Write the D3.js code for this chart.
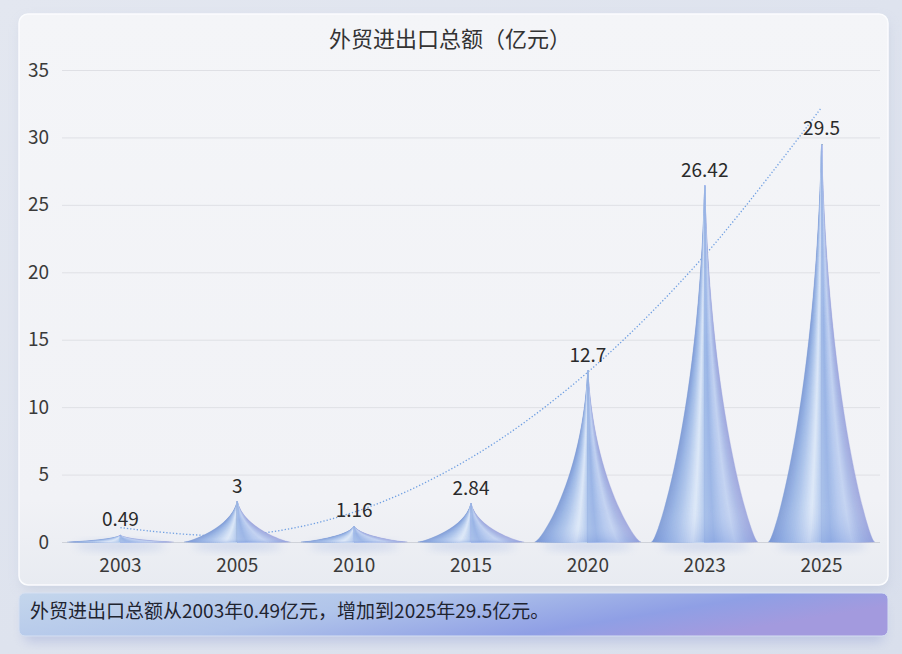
<!DOCTYPE html>
<html>
<head>
<meta charset="utf-8">
<script src="https://cdn.jsdelivr.net/npm/d3@7/dist/d3.min.js"></script>
<style>
  body { margin: 0; background: #dfe4ee; }
  svg { display: block; font-family: "Noto Sans CJK SC", "Noto Sans", sans-serif; }
</style>
</head>
<body>
<div id="chart"></div>
<script>
// chart data
var years = ["2003", "2005", "2010", "2015", "2020", "2023", "2025"];
var values = [0.49, 3, 1.16, 2.84, 12.7, 26.42, 29.5];
var yTicks = [0, 5, 10, 15, 20, 25, 30, 35];
var title = "外贸进出口总额（亿元）";
var caption = "外贸进出口总额从2003年0.49亿元，增加到2025年29.5亿元。";

var W = 902, H = 654;
var margin = { top: 70, right: 22, bottom: 112, left: 62 };

var svg = d3.select("#chart").append("svg").attr("width", W).attr("height", H);
var defs = svg.append("defs");

// page background
var bg = defs.append("linearGradient").attr("id", "pageBg").attr("x1", 0).attr("y1", 0).attr("x2", 1).attr("y2", 1);
bg.append("stop").attr("offset", "0%").attr("stop-color", "#e3e7f0");
bg.append("stop").attr("offset", "100%").attr("stop-color", "#d9dfec");
svg.append("rect").attr("width", W).attr("height", H).attr("fill", "url(#pageBg)");

// soft shadows
var blur = defs.append("filter").attr("id", "shadow").attr("x", "-10%").attr("y", "-10%").attr("width", "120%").attr("height", "130%");
blur.append("feGaussianBlur").attr("stdDeviation", 6);
var blur2 = defs.append("filter").attr("id", "soft").attr("x", "-50%").attr("y", "-50%").attr("width", "200%").attr("height", "200%");
blur2.append("feGaussianBlur").attr("stdDeviation", 4);

// card
svg.append("rect").attr("x", 21).attr("y", 20).attr("width", 867).attr("height", 570).attr("rx", 9)
  .attr("fill", "#b9c2d6").attr("opacity", 0.5).attr("filter", "url(#shadow)");
var cardG = defs.append("linearGradient").attr("id", "cardBg").attr("x1", 0).attr("y1", 0).attr("x2", 0).attr("y2", 1);
cardG.append("stop").attr("offset", "0%").attr("stop-color", "#f4f5f8");
cardG.append("stop").attr("offset", "85%").attr("stop-color", "#f1f2f6");
cardG.append("stop").attr("offset", "100%").attr("stop-color", "#e8ebf1");
svg.append("rect").attr("x", 19).attr("y", 14).attr("width", 869).attr("height", 571).attr("rx", 9)
  .attr("fill", "url(#cardBg)").attr("stroke", "#fbfcfe").attr("stroke-width", 1.5);

// caption box
svg.append("rect").attr("x", 24).attr("y", 602).attr("width", 860).attr("height", 40).attr("rx", 6)
  .attr("fill", "#9aa6d6").attr("opacity", 0.45).attr("filter", "url(#shadow)");
var capG = defs.append("linearGradient").attr("id", "capBg").attr("x1", 0).attr("y1", 0).attr("x2", 1).attr("y2", 0.3);
capG.append("stop").attr("offset", "0%").attr("stop-color", "#c4d6ec");
capG.append("stop").attr("offset", "45%").attr("stop-color", "#b0c4ea");
capG.append("stop").attr("offset", "80%").attr("stop-color", "#8f9fe5");
capG.append("stop").attr("offset", "100%").attr("stop-color", "#a39ade");
svg.append("rect").attr("x", 19).attr("y", 593).attr("width", 869).attr("height", 43).attr("rx", 6)
  .attr("fill", "url(#capBg)").attr("stroke", "#d6e0f2").attr("stroke-width", 1);
svg.append("text").attr("x", 30).attr("y", 618).attr("font-size", 19).attr("fill", "#1f2430").text(caption);

// title
svg.append("text").attr("x", 450).attr("y", 47).attr("text-anchor", "middle")
  .attr("font-size", 22).attr("fill", "#333").text(title);

var x = d3.scaleBand().domain(years).range([margin.left, W - margin.right]).padding(0);
var y = d3.scaleLinear().domain([0, 35]).range([H - margin.bottom, margin.top]);

// grid + y axis
var yAxis = svg.append("g").attr("transform", "translate(" + margin.left + ",0)")
  .call(d3.axisLeft(y).tickValues(yTicks).tickSize(-(W - margin.left - margin.right)).tickPadding(13));
yAxis.select(".domain").remove();
yAxis.selectAll(".tick line").attr("stroke", function (d) { return d === 0 ? "#cfd2d9" : "#dfe0e5"; });
yAxis.selectAll(".tick text").attr("font-size", 19).attr("fill", "#3a3a3a").attr("font-family", "Noto Sans CJK SC");

// x axis labels
var xAxis = svg.append("g").attr("transform", "translate(0," + (H - margin.bottom) + ")")
  .call(d3.axisBottom(x).tickSize(0).tickPadding(17));
xAxis.select(".domain").remove();
xAxis.selectAll(".tick text").attr("font-size", 19).attr("fill", "#3a3a3a").attr("font-family", "Noto Sans CJK SC");

// half spike: concave side from the base corner up to the tip, closed down the centre line
function halfSpike(cx, hw, top, base) {
  var h = base - top;
  return "M" + (cx + hw) + "," + base +
    "C" + (cx + hw * 0.9) + "," + base + " " + (cx + hw * 0.12) + "," + (base - h * 0.35) + " " + cx + "," + top +
    "L" + cx + "," + base + "Z";
}

// shading across the horn, u = -1 (left edge) .. 1 (right edge)
var shade = d3.scaleLinear()
  .domain([-1, -0.8, -0.6, -0.4, -0.25, -0.1, 0, 0.2, 0.4, 0.6, 0.8, 1])
  .range(["#7f9cd6", "#93afe2", "#a9c2ea", "#c6d7f2", "#dde8f8", "#bfd2f0", "#a5bee9", "#98b3e5", "#b0c5ed", "#c2d2f1", "#a9b9e6", "#9ea6dd"])
  .interpolate(d3.interpolateRgb);

var spikeW = x.bandwidth() * 0.91;
var base = y(0);
var steps = d3.range(1, 0, -0.04);

// quadratic least-squares trend over category index
var n = values.length;
var xs = d3.range(n);
var mx = d3.mean(xs);
var t = xs.map(function (v) { return v - mx; });
var mt2 = d3.mean(t, function (u) { return u * u; });
var p2 = t.map(function (v) { return v * v - mt2; });
var b0 = d3.mean(values);
var b1 = d3.sum(t, function (v, i) { return v * values[i]; }) / d3.sum(t, function (v) { return v * v; });
var b2 = d3.sum(p2, function (v, i) { return v * values[i]; }) / d3.sum(p2, function (v) { return v * v; });
var trend = t.map(function (v, i) { return b0 + b1 * v + b2 * p2[i]; });

svg.append("path")
  .datum(trend)
  .attr("fill", "none")
  .attr("stroke", "#6f9fe2")
  .attr("stroke-width", 1.3)
  .attr("stroke-dasharray", "1.3 2")
  .attr("d", d3.line()
    .x(function (d, i) { return x(years[i]) + x.bandwidth() / 2; })
    .y(function (d) { return y(d); })
    .curve(d3.curveCatmullRom.alpha(0.5)));

// bluish glow at the foot of each spike
svg.append("g").selectAll("ellipse").data(values).join("ellipse")
  .attr("cx", function (d, i) { return x(years[i]) + x.bandwidth() / 2; })
  .attr("cy", base + 4)
  .attr("rx", spikeW * 0.42).attr("ry", 5)
  .attr("fill", "#8ea6dc").attr("opacity", 0.3).attr("filter", "url(#soft)");

// vertical sheen on top of the banded fill
var sheen = defs.append("linearGradient").attr("id", "sheen").attr("x1", 0).attr("y1", 0).attr("x2", 0).attr("y2", 1);
sheen.append("stop").attr("offset", "0%").attr("stop-color", "#6f92d6").attr("stop-opacity", 0.3);
sheen.append("stop").attr("offset", "45%").attr("stop-color", "#ffffff").attr("stop-opacity", 0);
sheen.append("stop").attr("offset", "90%").attr("stop-color", "#ffffff").attr("stop-opacity", 0.06);
sheen.append("stop").attr("offset", "100%").attr("stop-color", "#6b8ad8").attr("stop-opacity", 0.22);

var bars = svg.append("g").selectAll("g").data(values).join("g");
bars.each(function (d, i) {
  var g = d3.select(this);
  var cx = x(years[i]) + x.bandwidth() / 2;
  var top = y(d);
  // nested half-horns, outermost first, so the bands follow the contour
  [-1, 1].forEach(function (side) {
    g.selectAll(null).data(steps).join("path")
      .attr("d", function (f) { return halfSpike(cx, side * f * spikeW / 2, top, base); })
      .attr("fill", function (f) { return shade(side * f); })
      .attr("stroke", function (f) { return shade(side * f); })
      .attr("stroke-width", 0.3);
  });
  g.append("path")
    .attr("d", halfSpike(cx, -spikeW / 2, top, base) + halfSpike(cx, spikeW / 2, top, base))
    .attr("fill", "url(#sheen)");
});

// value labels
svg.append("g").selectAll("text").data(values).join("text")
  .attr("x", function (d, i) { return x(years[i]) + x.bandwidth() / 2; })
  .attr("y", function (d) { return y(d) - 9; })
  .attr("text-anchor", "middle")
  .attr("font-size", 19)
  .attr("fill", "#2a2a2a")
  .text(function (d) { return d; });
</script>
</body>
</html>
